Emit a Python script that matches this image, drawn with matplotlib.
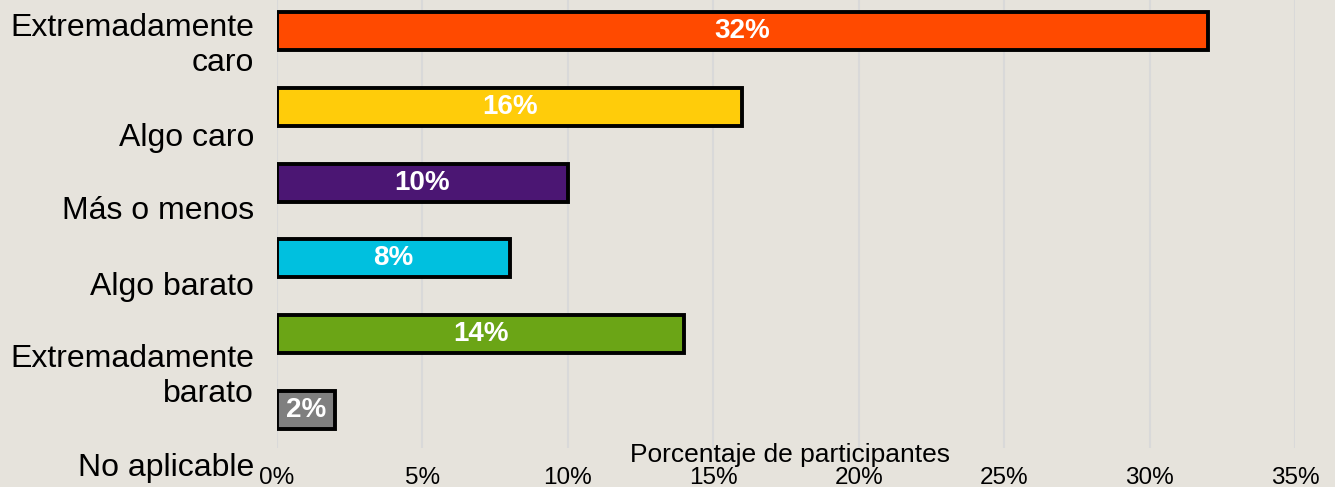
import matplotlib
matplotlib.use("Agg")
import matplotlib.pyplot as plt
from matplotlib.ticker import FuncFormatter

plt.rcParams['font.family'] = ['Liberation Sans', 'DejaVu Sans']

categories = ["Extremadamente\ncaro", "Algo caro", "Más o menos", "Algo barato",
              "Extremadamente\nbarato", "No aplicable"]
values = [32, 16, 10, 8, 14, 2]
colors = ["#FF4A00", "#FFCC0A", "#4B1673", "#00C0DF", "#6BA516", "#7F7F7F"]
xticks = [0, 5, 10, 15, 20, 25, 30, 35]
# the category labels sit below their bars in the original
label_shift = [0.19, 0.41, 0.38, 0.38, 0.56, 0.77]

bg = "#E6E3DC"
fig = plt.figure(figsize=(13.35, 4.87), dpi=100, facecolor=bg)
ax = fig.add_axes([277 / 1335, 39 / 487, 1018 / 1335, 455 / 487])
ax.set_facecolor(bg)

pos = list(range(len(values)))
ax.barh(pos, values, height=0.5, color=colors, edgecolor="black", linewidth=2.8, zorder=3)
for p, v in zip(pos, values):
    ax.text(v / 2, p, f"{v}%", ha="center", va="center", color="white",
            fontsize=20, fontweight="bold", zorder=4)

for p, lab, s in zip(pos, categories, label_shift):
    ax.text(-0.0226, p + s, lab, transform=ax.get_yaxis_transform(), ha="right",
            va="center", fontsize=23, linespacing=1.22)

ax.set_xlim(0, 35)
ax.set_ylim(len(values) - 0.5, -0.5)
ax.set_xticks(xticks)
ax.xaxis.set_major_formatter(FuncFormatter(lambda x, _: f"{x:.0f}%"))
ax.set_yticks([])
ax.tick_params(axis="x", length=0, pad=13.5, labelsize=17.5)
ax.grid(axis="x", color="#D9D9D9", linewidth=1.5, zorder=0)
for sp in ax.spines.values():
    sp.set_visible(False)

ax.set_xlabel("Porcentaje de participantes", fontsize=19)
ax.xaxis.set_label_coords(0.504, 0.012)

fig.savefig("out.png", dpi=100, facecolor=bg)
